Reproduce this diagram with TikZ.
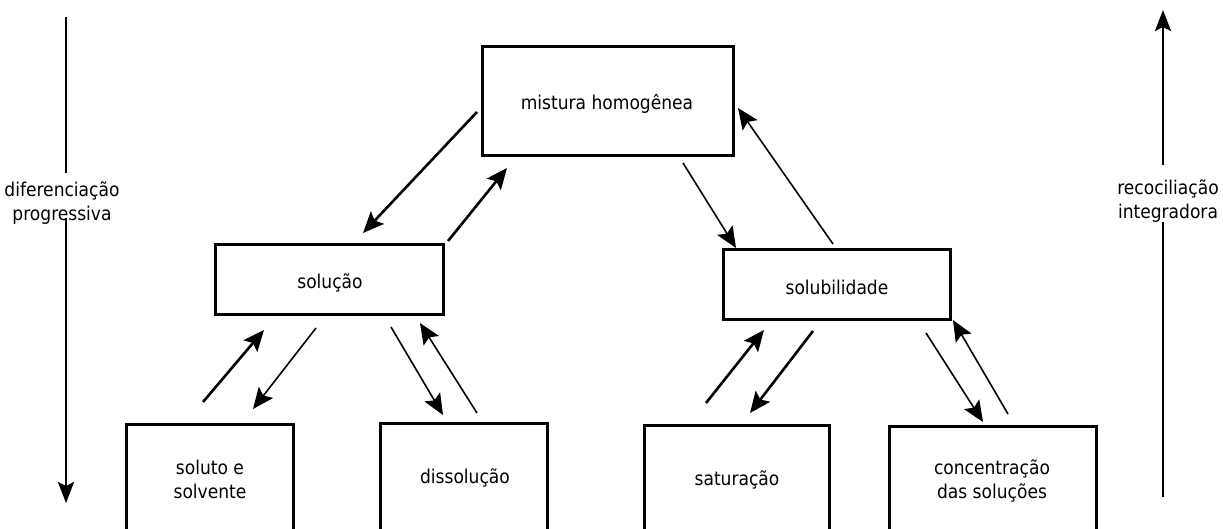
\documentclass[tikz,border=0pt]{standalone}
\usepackage{fontspec}
\setmainfont{DejaVu Sans Condensed}
\usetikzlibrary{arrows.meta}
\begin{document}
\begin{tikzpicture}[x=1pt,y=-1pt,
  box/.style={draw,line width=3pt,inner sep=0pt},
  lbl/.style={font=\fontsize{19}{24}\selectfont,align=center,inner sep=0pt},
  tip/.style={-{Stealth[length=21pt,width=18pt,inset=4pt]}},
  thk/.style={tip,line width=2.6pt},
  thn/.style={tip,line width=1.6pt},
  side/.style={line width=2.8pt}]
\useasboundingbox (0,0) rectangle (1223,529);
\clip (0,0) rectangle (1223,529);
% boxes
\node[box,minimum width=251pt,minimum height=109pt] (mh) at (607.5,101.5) {};
\node[lbl] (mht) at (607,104) {mistura homogênea};
\node[box,minimum width=228pt,minimum height=69pt] (sol) at (329,279.5) {};
\node[lbl] (solt) at (330,283) {solução};
\node[box,minimum width=227pt,minimum height=69pt] (sub) at (836.5,284.5) {};
\node[lbl] (subt) at (837,287) {solubilidade};
\node[box,minimum width=167pt,minimum height=150pt,anchor=north] (se) at (209.5,423) {};
\node[lbl] (set) at (210,479) {soluto e\\solvente};
\node[box,minimum width=167pt,minimum height=150pt,anchor=north] (di) at (463.5,422) {};
\node[lbl] (dit) at (465,478) {dissolução};
\node[box,minimum width=185pt,minimum height=150pt,anchor=north] (sa) at (736.5,424) {};
\node[lbl] (sat) at (737,480) {saturação};
\node[box,minimum width=207pt,minimum height=150pt,anchor=north] (co) at (992.5,425) {};
\node[lbl] (cot) at (992,481) {concentração\\ das soluções};
% side labels
\node[lbl] (dp) at (62,203) {diferenciação\\progressiva};
\node[lbl] (ri) at (1168,201) {recociliação\\integradora};
\coordinate (dpa) at (66,17);
\coordinate (dpb) at (66,173);
\coordinate (dpc) at (66,218);
\coordinate (dpd) at (66,503);
\draw[side] (dpa) -- (dpb);
\draw[side,-{Stealth[length=21pt,width=16pt,inset=4pt]}] (dpc) -- (dpd);
\coordinate (ria) at (1163,497);
\coordinate (rib) at (1163,222);
\coordinate (ric) at (1163,165);
\coordinate (rid) at (1163,10);
\draw[side] (ria) -- (rib);
\draw[side,-{Stealth[length=21pt,width=16pt,inset=4pt]}] (ric) -- (rid);
% connector end points
\coordinate (a1s) at (477,112); \coordinate (a1e) at (363,233);
\coordinate (a2s) at (448,241); \coordinate (a2e) at (507,168);
\coordinate (a3s) at (683,163); \coordinate (a3e) at (736,248);
\coordinate (a4s) at (833,244); \coordinate (a4e) at (738,108);
\coordinate (b1s) at (203,402); \coordinate (b1e) at (264,330);
\coordinate (b2s) at (316,328); \coordinate (b2e) at (253,409);
\coordinate (b3s) at (391,327); \coordinate (b3e) at (443,415);
\coordinate (b4s) at (477,413); \coordinate (b4e) at (420,323);
\coordinate (c1s) at (706,403); \coordinate (c1e) at (764,330);
\coordinate (c2s) at (813,331); \coordinate (c2e) at (750,413);
\coordinate (c3s) at (926,333); \coordinate (c3e) at (983,422);
\coordinate (c4s) at (1008,414); \coordinate (c4e) at (953,320);
\draw[thk] (a1s) -- (a1e);
\draw[thk] (a2s) -- (a2e);
\draw[thn] (a3s) -- (a3e);
\draw[thn] (a4s) -- (a4e);
\draw[thk] (b1s) -- (b1e);
\draw[thn] (b2s) -- (b2e);
\draw[thn] (b3s) -- (b3e);
\draw[thn] (b4s) -- (b4e);
\draw[thk] (c1s) -- (c1e);
\draw[thk] (c2s) -- (c2e);
\draw[thn] (c3s) -- (c3e);
\draw[thn] (c4s) -- (c4e);
\end{tikzpicture}
\end{document}
